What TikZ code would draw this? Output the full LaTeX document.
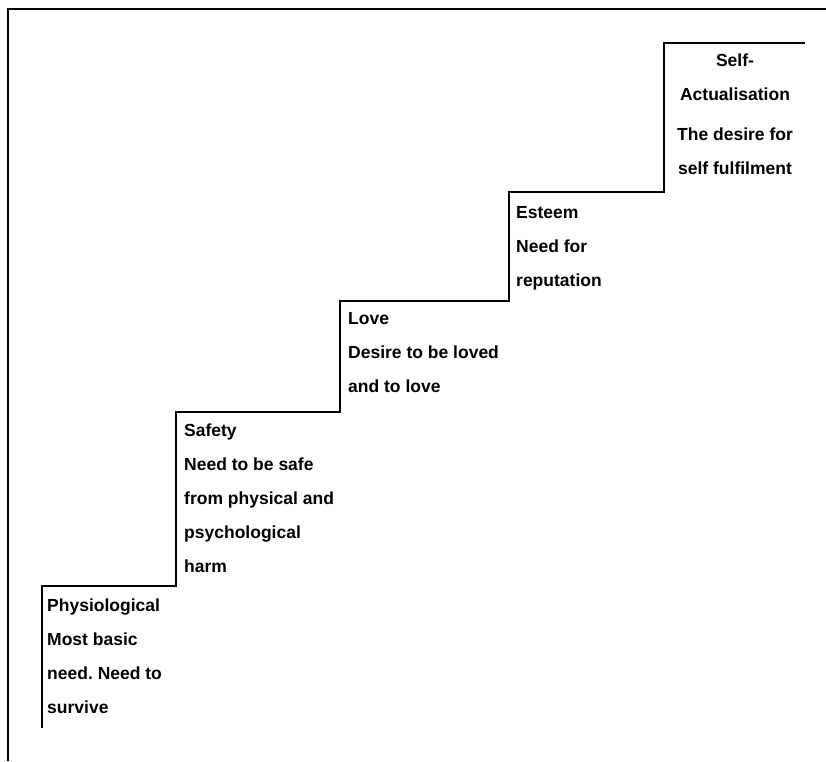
\documentclass[tikz,border=0pt]{standalone}
\usepackage{fontspec}
\setmainfont{Liberation Sans}
\usepackage{tikz}
\frenchspacing

\tikzset{
	need/.style={anchor=north west, inner sep=0pt, align=left, font=\bfseries\fontsize{17.5}{34}\selectfont},
	stair/.style={line width=1.2pt}
}

\begin{document}
\begin{tikzpicture}[x=1pt, y=-1pt]
		\useasboundingbox (0,0) rectangle (826,761);

		% frame
		\coordinate (f1) at (8,761);
		\coordinate (f2) at (8,9);
		\coordinate (f3) at (826,9);
		\draw[stair] (f1) -- (f2) -- (f3);

		% corners of the steps
		\coordinate (p0) at (42,728);
		\coordinate (p1) at (42,586);
		\coordinate (p2) at (176,586);
		\coordinate (p3) at (176,412);
		\coordinate (p4) at (340,412);
		\coordinate (p5) at (340,301);
		\coordinate (p6) at (509,301);
		\coordinate (p7) at (509,192);
		\coordinate (p8) at (664,192);
		\coordinate (p9) at (664,43);
		\coordinate (p10) at (805,43);

		\draw[stair] (p0)--(p1)--(p2)--(p3)--(p4)--(p5)--(p6)--(p7)--(p8)--(p9)--(p10);

		\node[need] (phys) at (47,599) {Physiological\\Most basic\\need. Need to\\survive};
		\node[need] (safe) at (184,424) {Safety\\Need to be safe\\from physical and\\psychological\\harm};
		\node[need] (love) at (348,312) {Love\\Desire to be loved\\and to love};
		\node[need] (est) at (516,206) {Esteem\\Need for\\reputation};
		\node[need, anchor=north, align=center] (self) at (735,54) {Self-\\Actualisation\\[6pt]The desire for\\self fulfilment};
	\end{tikzpicture}
\end{document}
